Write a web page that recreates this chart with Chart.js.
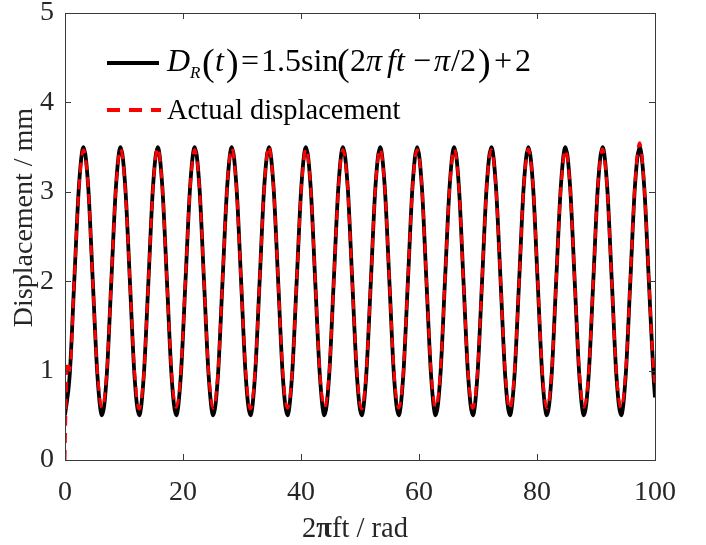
<!DOCTYPE html>
<html>
<head>
<meta charset="utf-8">
<script src="https://cdn.jsdelivr.net/npm/chart.js@4.4.0/dist/chart.umd.min.js"></script>
<style>
  html, body { margin: 0; padding: 0; background: #ffffff; }
  #wrap { width: 706px; height: 545px; }
</style>
</head>
<body>
<div id="wrap"><canvas id="c" width="706" height="545"></canvas></div>
<script>
// ---- Data ----
// x positions (2πft, rad) of samples of the reference curve
const xValues = [
  0.00, 0.79, 1.57, 2.36, 3.14, 3.93, 4.71, 5.50,
  6.28, 7.07, 7.85, 8.64, 9.42, 10.21, 11.00, 11.78,
  12.57, 13.35, 14.14, 14.92, 15.71, 16.49, 17.28, 18.06,
  18.85, 19.63, 20.42, 21.21, 21.99, 22.78, 23.56, 24.35,
  25.13, 25.92, 26.70, 27.49, 28.27, 29.06, 29.85, 30.63,
  31.42, 32.20, 32.99, 33.77, 34.56, 35.34, 36.13, 36.91,
  37.70, 38.48, 39.27, 40.06, 40.84, 41.63, 42.41, 43.20,
  43.98, 44.77, 45.55, 46.34, 47.12, 47.91, 48.69, 49.48,
  50.27, 51.05, 51.84, 52.62, 53.41, 54.19, 54.98, 55.76,
  56.55, 57.33, 58.12, 58.90, 59.69, 60.48, 61.26, 62.05,
  62.83, 63.62, 64.40, 65.19, 65.97, 66.76, 67.54, 68.33,
  69.12, 69.90, 70.69, 71.47, 72.26, 73.04, 73.83, 74.61,
  75.40, 76.18, 76.97, 77.75, 78.54, 79.33, 80.11, 80.90,
  81.68, 82.47, 83.25, 84.04, 84.82, 85.61, 86.39, 87.18,
  87.96, 88.75, 89.54, 90.32, 91.11, 91.89, 92.68, 93.46,
  94.25, 95.03, 95.82, 96.60, 97.39, 98.17, 98.96, 99.75,
  100.00
];
// D_R(t) reference displacement (mm)
const referenceValues = [
  0.50, 0.94, 2.00, 3.06, 3.50, 3.06, 2.00, 0.94,
  0.50, 0.94, 2.00, 3.06, 3.50, 3.06, 2.00, 0.94,
  0.50, 0.94, 2.00, 3.06, 3.50, 3.06, 2.00, 0.94,
  0.50, 0.94, 2.00, 3.06, 3.50, 3.06, 2.00, 0.94,
  0.50, 0.94, 2.00, 3.06, 3.50, 3.06, 2.00, 0.94,
  0.50, 0.94, 2.00, 3.06, 3.50, 3.06, 2.00, 0.94,
  0.50, 0.94, 2.00, 3.06, 3.50, 3.06, 2.00, 0.94,
  0.50, 0.94, 2.00, 3.06, 3.50, 3.06, 2.00, 0.94,
  0.50, 0.94, 2.00, 3.06, 3.50, 3.06, 2.00, 0.94,
  0.50, 0.94, 2.00, 3.06, 3.50, 3.06, 2.00, 0.94,
  0.50, 0.94, 2.00, 3.06, 3.50, 3.06, 2.00, 0.94,
  0.50, 0.94, 2.00, 3.06, 3.50, 3.06, 2.00, 0.94,
  0.50, 0.94, 2.00, 3.06, 3.50, 3.06, 2.00, 0.94,
  0.50, 0.94, 2.00, 3.06, 3.50, 3.06, 2.00, 0.94,
  0.50, 0.94, 2.00, 3.06, 3.50, 3.06, 2.00, 0.94,
  0.50, 0.94, 2.00, 3.06, 3.50, 3.06, 2.00, 0.94,
  0.70
];
// measured (actual) displacement: start-up samples, then same x grid
const actualStartX = [0.00, 0.15, 0.45];
const actualStartValues = [0.00, 0.55, 1.10];
const actualValues = [
        1.00, 2.02, 3.04, 3.47, 3.05, 1.98, 0.98,
  0.58, 0.97, 2.01, 3.06, 3.48, 3.04, 2.00, 0.99,
  0.57, 0.96, 2.00, 3.05, 3.49, 3.06, 1.99, 0.98,
  0.59, 0.98, 2.02, 3.05, 3.47, 3.05, 2.01, 0.97,
  0.58, 0.97, 2.00, 3.07, 3.49, 3.04, 1.98, 0.99,
  0.57, 0.98, 2.01, 3.06, 3.51, 3.05, 2.00, 0.98,
  0.58, 0.96, 2.00, 3.04, 3.48, 3.06, 2.01, 0.97,
  0.59, 0.97, 1.99, 3.05, 3.47, 3.04, 1.99, 0.98,
  0.57, 0.98, 2.01, 3.06, 3.48, 3.05, 2.00, 0.99,
  0.58, 0.97, 2.02, 3.05, 3.47, 3.06, 2.01, 0.98,
  0.59, 0.98, 2.00, 3.04, 3.48, 3.05, 1.99, 0.97,
  0.58, 0.97, 2.01, 3.06, 3.47, 3.04, 2.00, 0.98,
  0.57, 0.98, 2.00, 3.05, 3.48, 3.06, 2.01, 0.99,
  0.58, 0.96, 1.99, 3.04, 3.47, 3.05, 2.00, 0.98,
  0.59, 0.97, 2.01, 3.06, 3.48, 3.04, 1.98, 0.97,
  0.58, 0.98, 2.02, 3.08, 3.55, 3.07, 2.02, 1.00,
  0.86
];
const xTickValues = [0, 20, 40, 60, 80, 100];
const yTickValues = [0, 1, 2, 3, 4, 5];
const seriesNames = ['D_R(t)', 'Actual displacement'];

// ---- Build datasets ----
const refPoints = xValues.map((x, i) => ({ x: x, y: referenceValues[i] }));
const actX = actualStartX.concat(xValues.slice(1));
const actY = actualStartValues.concat(actualValues);
const actPoints = actX.map((x, i) => ({ x: x, y: actY[i] }));

const SERIF = '"Liberation Serif", "Times New Roman", serif';
const AXIS_COLOR = '#3a3a3a';
const TEXT_COLOR = '#262626';

const framePlugin = {
  id: 'matlabFrame',
  afterDraw(chart) {
    const ctx = chart.ctx;
    const a = chart.chartArea;
    const xs = chart.scales.x, ys = chart.scales.y;
    ctx.save();
    // box
    ctx.strokeStyle = AXIS_COLOR;
    ctx.lineWidth = 1;
    ctx.strokeRect(Math.round(a.left) + 0.5, Math.round(a.top) + 0.5,
                   Math.round(a.right - a.left), Math.round(a.bottom - a.top));
    // inward ticks
    const tl = 6;
    ctx.beginPath();
    xTickValues.forEach(v => {
      const px = Math.round(xs.getPixelForValue(v)) + 0.5;
      ctx.moveTo(px, a.bottom); ctx.lineTo(px, a.bottom - tl);
      ctx.moveTo(px, a.top); ctx.lineTo(px, a.top + tl);
    });
    yTickValues.forEach(v => {
      const py = Math.round(ys.getPixelForValue(v)) + 0.5;
      ctx.moveTo(a.left, py); ctx.lineTo(a.left + tl, py);
      ctx.moveTo(a.right, py); ctx.lineTo(a.right - tl, py);
    });
    ctx.stroke();

    ctx.fillStyle = TEXT_COLOR;
    // y-axis title
    ctx.save();
    ctx.translate(25, (a.top + a.bottom) / 2 - 19);
    ctx.rotate(-Math.PI / 2);
    ctx.font = '28px ' + SERIF;
    ctx.textAlign = 'center';
    ctx.textBaseline = 'middle';
    ctx.fillText('Displacement / mm', 0, 0);
    ctx.restore();

    // x-axis title: 2πft / rad with bold π
    ctx.textBaseline = 'alphabetic';
    ctx.textAlign = 'left';
    const parts = [
      { t: '2', f: '28.5px ' + SERIF },
      { t: '\u03C0', f: 'bold 28.5px ' + SERIF },
      { t: 'ft / rad', f: '28.5px ' + SERIF }
    ];
    let total = 0;
    parts.forEach(p => { ctx.font = p.f; p.w = ctx.measureText(p.t).width; total += p.w; });
    let cx = (a.left + a.right) / 2 - 5 - total / 2;
    parts.forEach(p => { ctx.font = p.f; ctx.fillText(p.t, cx, 537); cx += p.w; });

    // legend
    ctx.lineCap = 'butt';
    ctx.strokeStyle = '#000000';
    ctx.lineWidth = 4;
    ctx.setLineDash([]);
    ctx.beginPath(); ctx.moveTo(107, 63); ctx.lineTo(159, 63); ctx.stroke();
    ctx.strokeStyle = '#ff0000';
    ctx.setLineDash([13, 9]);
    ctx.beginPath(); ctx.moveTo(107, 110); ctx.lineTo(161, 110); ctx.stroke();
    ctx.setLineDash([]);

    ctx.fillStyle = '#000000';
    const it = 'italic 32px ' + SERIF;
    const up = '32px ' + SERIF;
    const par = '38px ' + SERIF;
    const by = 71;
    const math = [
      { t: 'D', f: it, x: 167, y: by },
      { t: 'R', f: 'italic 17px ' + SERIF, x: 190, y: by + 7 },
      { t: '(', f: par, x: 202, y: by + 4 },
      { t: 't', f: it, x: 215, y: by },
      { t: ')', f: par, x: 226, y: by + 4 },
      { t: '=', f: up, x: 241, y: by },
      { t: '1.5sin', f: up, x: 261, y: by },
      { t: '(', f: par, x: 337, y: by + 4 },
      { t: '2', f: up, x: 350, y: by },
      { t: '\u03C0', f: it, x: 366, y: by },
      { t: 'ft', f: it, x: 387, y: by },
      { t: '\u2212', f: up, x: 413, y: by },
      { t: '\u03C0', f: it, x: 434, y: by },
      { t: '/', f: up, x: 451, y: by },
      { t: '2', f: up, x: 460, y: by },
      { t: ')', f: par, x: 478, y: by + 4 },
      { t: '+', f: up, x: 494, y: by },
      { t: '2', f: up, x: 515, y: by }
    ];
    math.forEach(m => { ctx.font = m.f; ctx.fillText(m.t, m.x, m.y); });
    ctx.font = '28.5px ' + SERIF;
    ctx.fillText(seriesNames[1], 167, 119);
    ctx.restore();
  }
};

new Chart(document.getElementById('c'), {
  type: 'line',
  data: {
    datasets: [
      {
        label: seriesNames[1],
        data: actPoints,
        borderColor: '#ff0000',
        borderWidth: 3,
        borderDash: [10, 7],
        pointRadius: 0,
        fill: false,
        cubicInterpolationMode: 'monotone'
      },
      {
        label: seriesNames[0],
        data: refPoints,
        borderColor: '#000000',
        borderWidth: 3.8,
        pointRadius: 0,
        fill: false,
        cubicInterpolationMode: 'monotone'
      }
    ]
  },
  options: {
    responsive: false,
    animation: false,
    devicePixelRatio: 1,
    layout: { padding: { top: 13, right: 51, left: 0, bottom: 0 } },
    plugins: {
      legend: { display: false },
      tooltip: { enabled: false },
      title: { display: false }
    },
    scales: {
      x: {
        type: 'linear',
        min: 0, max: 100,
        afterBuildTicks: s => { s.ticks = xTickValues.map(v => ({ value: v })); },
        afterFit: s => { s.height = 85; s.paddingLeft = 0; s.paddingRight = 0; },
        grid: { display: false, drawTicks: false },
        border: { display: false },
        ticks: {
          color: TEXT_COLOR,
          font: { family: SERIF, size: 28 },
          padding: 16,
          maxRotation: 0,
          autoSkip: false
        }
      },
      y: {
        type: 'linear',
        min: 0, max: 5,
        afterBuildTicks: s => { s.ticks = yTickValues.map(v => ({ value: v })); },
        afterFit: s => { s.width = 65; s.paddingTop = 0; s.paddingBottom = 0; },
        grid: { display: false, drawTicks: false },
        border: { display: false },
        ticks: {
          color: TEXT_COLOR,
          font: { family: SERIF, size: 28 },
          padding: 11,
          autoSkip: false
        }
      }
    }
  },
  plugins: [framePlugin]
});
</script>
</body>
</html>
